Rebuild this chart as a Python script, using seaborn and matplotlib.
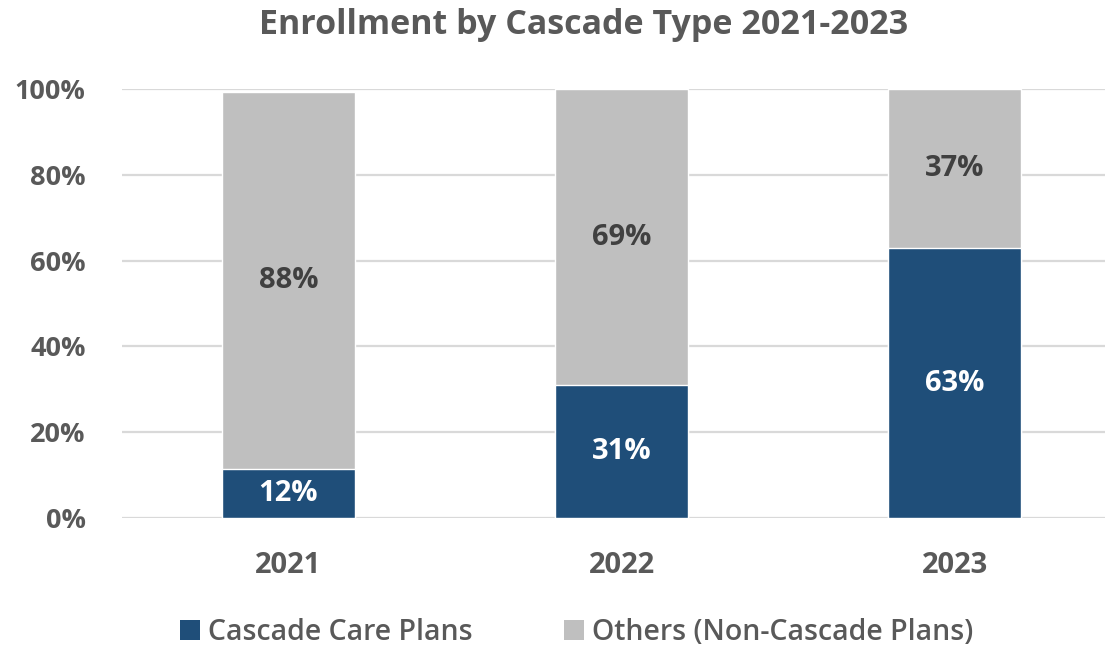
import matplotlib
matplotlib.use("Agg")
import matplotlib.pyplot as plt
import seaborn as sns
import pandas as pd
from matplotlib.patches import Patch

years = ["2021", "2022", "2023"]
cascade = [11.5, 31.0, 62.9]
others = [87.8, 69.0, 37.1]
cascade_labels = ["12%", "31%", "63%"]
others_labels = ["88%", "69%", "37%"]
yticks = [0, 20, 40, 60, 80, 100]
ytick_labels = ["0%", "20%", "40%", "60%", "80%", "100%"]
series_names = ["Cascade Care Plans", "Others (Non-Cascade Plans)"]

BLUE = "#1F4E79"
GRAY = "#BFBFBF"
TXT = "#595959"

sns.set_theme(style="white")
plt.rcParams["font.family"] = ["Open Sans", "DejaVu Sans"]

df = pd.DataFrame({"year": years, "cascade": cascade, "others": others})
df["total"] = df["cascade"] + df["others"]

fig = plt.figure(figsize=(11.07, 6.49), dpi=100)
ax = fig.add_axes([0.110, 0.2018, 0.888, 0.661])

sns.barplot(data=df, x="year", y="total", color=GRAY, width=0.40, ax=ax,
            saturation=1, zorder=3)
sns.barplot(data=df, x="year", y="cascade", color=BLUE, width=0.40, ax=ax,
            saturation=1, zorder=3)

ax.set_ylim(0, 100)
ax.set_xlim(-0.5, 2.45)
ax.set_yticks(yticks)
ax.set_yticklabels(ytick_labels)
ax.yaxis.grid(True, color="#D9D9D9", linewidth=1.6, zorder=0)
ax.set_axisbelow(True)
for s in ax.spines.values():
    s.set_visible(False)
ax.tick_params(axis="both", length=0)
ax.tick_params(axis="y", pad=26, labelsize=19.5, labelcolor=TXT)
ax.tick_params(axis="x", pad=24, labelsize=21, labelcolor=TXT)
for lab in ax.get_yticklabels() + ax.get_xticklabels():
    lab.set_fontweight("bold")
ax.set_xlabel("")
ax.set_ylabel("")

for i in range(len(years)):
    ax.text(i, cascade[i] / 2, cascade_labels[i], ha="center", va="center",
            color="white", fontsize=21, fontweight="bold", zorder=5)
    ax.text(i, cascade[i] + others[i] / 2, others_labels[i], ha="center",
            va="center", color="#404040", fontsize=21, fontweight="bold", zorder=5)

fig.text(0.527, 0.962, "Enrollment by Cascade Type 2021-2023", ha="center",
         va="center", fontsize=24.5, fontweight="bold", color=TXT)

handles = [Patch(facecolor=BLUE, edgecolor="none"), Patch(facecolor=GRAY, edgecolor="none")]
leg = fig.legend(handles, series_names, loc="center", bbox_to_anchor=(0.521, 0.025),
                 ncol=2, frameon=False, fontsize=20.5, handlelength=0.7,
                 handleheight=0.7, handletextpad=0.3, columnspacing=3.2)
for t in leg.get_texts():
    t.set_color(TXT)
    t.set_fontweight("semibold")

fig.savefig("out.png", dpi=100, facecolor="white")
